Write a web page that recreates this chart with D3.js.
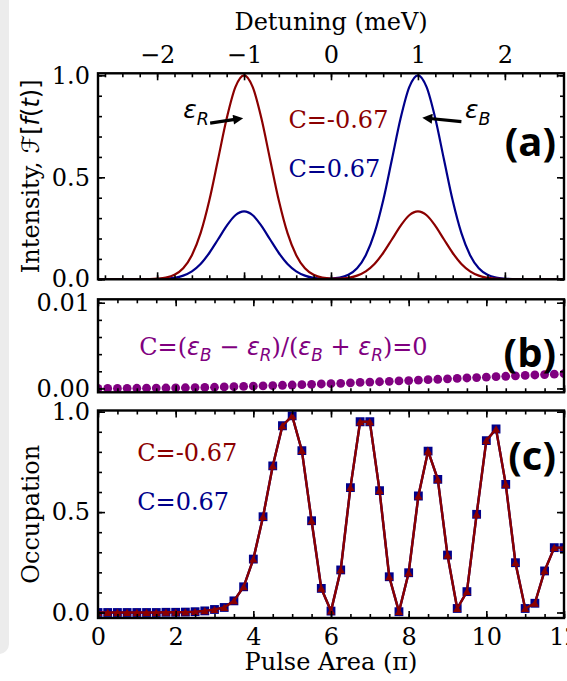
<!DOCTYPE html>
<html>
<head>
<meta charset="utf-8">
<script src="https://cdn.jsdelivr.net/npm/d3@7.9.0/dist/d3.min.js"></script>
<style>
  body { margin: 0; background: #fff; }
</style>
</head>
<body>
<div id="chart"></div>
<script>
// panel (a): spectra vs detuning (meV)
const detuning = [-2.7, -2.6, -2.5, -2.4, -2.3, -2.2, -2.1, -2.0, -1.9, -1.8, -1.7, -1.6, -1.5, -1.4,
  -1.3, -1.2, -1.1, -1.0, -0.9, -0.8, -0.7, -0.6, -0.5, -0.4, -0.3, -0.2, -0.1, 0.0,
  0.1, 0.2, 0.3, 0.4, 0.5, 0.6, 0.7, 0.8, 0.9, 1.0, 1.1, 1.2, 1.3, 1.4, 1.5, 1.6,
  1.7, 1.8, 1.9, 2.0, 2.1, 2.2, 2.3, 2.4, 2.5, 2.6, 2.7];
const redSpectrum = [0, 0, 0, 0, 0, 0, 0.001, 0.003, 0.008, 0.022, 0.054, 0.118, 0.226, 0.386,
  0.586, 0.788, 0.942, 1.0, 0.942, 0.788, 0.586, 0.386, 0.226, 0.118, 0.054, 0.022, 0.008, 0.004,
  0.004, 0.007, 0.018, 0.039, 0.075, 0.129, 0.195, 0.262, 0.314, 0.333, 0.314, 0.262, 0.195, 0.129,
  0.075, 0.039, 0.018, 0.007, 0.003, 0.001, 0, 0, 0, 0, 0, 0, 0];
const blueSpectrum = [0, 0, 0, 0, 0, 0, 0, 0.001, 0.003, 0.007, 0.018, 0.039, 0.075, 0.129,
  0.195, 0.262, 0.314, 0.333, 0.314, 0.262, 0.195, 0.129, 0.075, 0.039, 0.018, 0.007, 0.004, 0.004,
  0.008, 0.022, 0.054, 0.118, 0.226, 0.386, 0.586, 0.788, 0.942, 1.0, 0.942, 0.788, 0.586, 0.386,
  0.226, 0.118, 0.054, 0.022, 0.008, 0.003, 0.001, 0, 0, 0, 0, 0, 0];

// panels (b) and (c): occupation vs pulse area (pi)
const pulseArea = [0, 0.25, 0.5, 0.75, 1, 1.25, 1.5, 1.75, 2, 2.25, 2.5, 2.75, 3, 3.25, 3.5, 3.75,
  4, 4.25, 4.5, 4.75, 5, 5.25, 5.5, 5.75, 6, 6.25, 6.5, 6.75, 7, 7.25, 7.5, 7.75,
  8, 8.25, 8.5, 8.75, 9, 9.25, 9.5, 9.75, 10, 10.25, 10.5, 10.75, 11, 11.25, 11.5, 11.75, 12];
const occZero = [0, 0, 0, 0.00001, 0.00002, 0.00003, 0.00004, 0.00005, 0.00006, 0.00008, 0.0001,
  0.00012, 0.00014, 0.00017, 0.0002, 0.00023, 0.00026, 0.0003, 0.00033, 0.00037, 0.0004, 0.00044,
  0.00048, 0.00052, 0.00056, 0.0006, 0.00065, 0.0007, 0.00074, 0.00078, 0.00083, 0.00088, 0.00092,
  0.00097, 0.00102, 0.00107, 0.00112, 0.00117, 0.00122, 0.00127, 0.00132, 0.00137, 0.00142,
  0.00147, 0.00152, 0.00157, 0.00162, 0.00167, 0.00172];
const occRed = [0, 0, 0, 0, 0, 0, 0, 0.001, 0.001, 0.002, 0.004, 0.008, 0.015, 0.025, 0.058, 0.128,
  0.266, 0.477, 0.73, 0.93, 0.979, 0.806, 0.457, 0.12, 0.007, 0.212, 0.622, 0.95, 0.95, 0.607, 0.178, 0.004,
  0.198, 0.58, 0.804, 0.663, 0.286, 0.02, 0.104, 0.489, 0.856, 0.914, 0.638, 0.248, 0.02, 0.046, 0.207, 0.323, 0.323];
const occBlue = [0, 0, 0, 0, 0, 0, 0, 0.001, 0.001, 0.002, 0.004, 0.008, 0.015, 0.025, 0.058, 0.128,
  0.266, 0.477, 0.73, 0.93, 0.979, 0.806, 0.457, 0.12, 0.007, 0.212, 0.622, 0.95, 0.95, 0.607, 0.178, 0.004,
  0.198, 0.58, 0.804, 0.663, 0.286, 0.02, 0.104, 0.489, 0.856, 0.914, 0.638, 0.248, 0.02, 0.046, 0.207, 0.323, 0.323];

// tick labels
const detTicks = [-2, -1, 0, 1, 2];
const areaTicks = [0, 2, 4, 6, 8, 10, 12];
const occTicks = [0, 0.5, 1.0];
const smallTicks = [0, 0.01];

const RED = "#8b0000", BLUE = "#00008b", PURPLE = "#800080";
const width = 567, height = 681;
const left = 98, right = 564;

const svg = d3.select("#chart").append("svg")
    .attr("width", width)
    .attr("height", height)
    .attr("font-family", "DejaVu Serif");

// grey page edge on the left
svg.append("rect")
    .attr("x", -14).attr("y", -14)
    .attr("width", 23).attr("height", 668)
    .attr("rx", 10)
    .attr("fill", "#ececec");

const defs = svg.append("defs");
defs.append("marker")
    .attr("id", "head")
    .attr("viewBox", "0 0 10 10")
    .attr("refX", 10).attr("refY", 5)
    .attr("markerWidth", 12).attr("markerHeight", 10)
    .attr("markerUnits", "userSpaceOnUse")
    .attr("orient", "auto")
    .append("path").attr("d", "M0,0L10,5L0,10Z").attr("fill", "#000");

// scales
const xDet = d3.scaleLinear().domain([-2.68, 2.68]).range([left, right]);
const xArea = d3.scaleLinear().domain([0, 12]).range([left, right]);
const yA = d3.scaleLinear().domain([0, 1.01]).range([279.3, 73.3]);
const yB = d3.scaleLinear().domain([-0.00045, 0.0104]).range([392.3, 299.3]);
const yC = d3.scaleLinear().domain([-0.0274, 1.006]).range([618, 410.5]);

function clip(id, y) {
    defs.append("clipPath").attr("id", id)
        .append("rect")
        .attr("x", left).attr("y", y.range()[1])
        .attr("width", right - left).attr("height", y.range()[0] - y.range()[1]);
}
clip("clipA", yA); clip("clipB", yB); clip("clipC", yC);

// inward ticks on one side
function ticks(axisFn, scale, values, size, fmt, pos, pad) {
    const g = svg.append("g").attr("transform", pos);
    g.call(axisFn(scale).tickValues(values).tickSize(-size).tickPadding(pad || 9)
        .tickFormat(fmt || (() => "")));
    g.attr("font-family", "DejaVu Serif").attr("font-size", 24);
    g.select(".domain").remove();
    g.selectAll("line").attr("stroke", "#000").attr("stroke-width", 1.6);
    g.selectAll("text").attr("fill", "#000");
}

function frame(y) {
    svg.append("rect")
        .attr("x", left).attr("y", y.range()[1])
        .attr("width", right - left).attr("height", y.range()[0] - y.range()[1])
        .attr("fill", "none").attr("stroke", "#000").attr("stroke-width", 2.4);
}

function xTicks(x, y, major, minor, fmtTop, fmtBottom) {
    const top = y.range()[1], bottom = y.range()[0];
    ticks(d3.axisTop, x, minor, 4, null, `translate(0,${top})`);
    ticks(d3.axisTop, x, major, 7, fmtTop, `translate(0,${top})`, 10);
    ticks(d3.axisBottom, x, minor, 4, null, `translate(0,${bottom})`);
    ticks(d3.axisBottom, x, major, 7, fmtBottom, `translate(0,${bottom})`, 10);
}

function yTicks(y, major, minor, fmt) {
    ticks(d3.axisLeft, y, minor, 4, null, `translate(${left},0)`);
    ticks(d3.axisLeft, y, major, 7, fmt, `translate(${left},0)`, 8);
    ticks(d3.axisRight, y, minor, 4, null, `translate(${right},0)`);
    ticks(d3.axisRight, y, major, 7, null, `translate(${right},0)`);
}

// ---------- panel (a)
const lineA = d3.line()
    .x((d, i) => xDet(detuning[i]))
    .y(d => yA(d))
    .curve(d3.curveMonotoneX);

const gA = svg.append("g").attr("clip-path", "url(#clipA)");
gA.append("path").datum(blueSpectrum).attr("d", lineA)
    .attr("fill", "none").attr("stroke", BLUE).attr("stroke-width", 2.2);
gA.append("path").datum(redSpectrum).attr("d", lineA)
    .attr("fill", "none").attr("stroke", RED).attr("stroke-width", 2.2);

xTicks(xDet, yA, detTicks, d3.range(-2.6, 2.61, 0.2), d3.format(".0f"), null);
yTicks(yA, occTicks, d3.range(0, 1.01, 0.1), d3.format(".1f"));
frame(yA);

// ---------- panel (b)
const gB = svg.append("g").attr("clip-path", "url(#clipB)");
gB.selectAll("circle").data(occZero).join("circle")
    .attr("cx", (d, i) => xArea(pulseArea[i]))
    .attr("cy", d => yB(d))
    .attr("r", 4.4)
    .attr("fill", PURPLE);

xTicks(xArea, yB, areaTicks, d3.range(0, 12.01, 0.5), null, null);
yTicks(yB, smallTicks, d3.range(0, 0.0101, 0.002), d3.format(".2f"));
frame(yB);

// ---------- panel (c)
const lineC = d3.line()
    .x((d, i) => xArea(pulseArea[i]))
    .y(d => yC(d));

const gC = svg.append("g").attr("clip-path", "url(#clipC)");
gC.append("path").datum(occBlue).attr("d", lineC)
    .attr("fill", "none").attr("stroke", BLUE).attr("stroke-width", 2.4);
gC.selectAll(".sq").data(occBlue).join("path").attr("class", "sq")
    .attr("transform", (d, i) => `translate(${xArea(pulseArea[i])},${yC(d)})`)
    .attr("d", d3.symbol(d3.symbolSquare, 78))
    .attr("fill", BLUE);
gC.append("path").datum(occRed).attr("d", lineC)
    .attr("fill", "none").attr("stroke", RED).attr("stroke-width", 2.4);
gC.selectAll(".tri").data(occRed).join("path").attr("class", "tri")
    .attr("transform", (d, i) => `translate(${xArea(pulseArea[i])},${yC(d) + 1})`)
    .attr("d", d3.symbol(d3.symbolTriangle, 30))
    .attr("fill", RED);

xTicks(xArea, yC, areaTicks, d3.range(0, 12.01, 0.5), null, d3.format("d"));
yTicks(yC, occTicks, d3.range(0, 1.01, 0.1), d3.format(".1f"));
frame(yC);

// ---------- axis titles
svg.append("text").attr("x", xDet(0)).attr("y", 30)
    .attr("text-anchor", "middle").attr("font-size", 24)
    .text("Detuning (meV)");
svg.append("text").attr("x", xArea(6)).attr("y", 670)
    .attr("text-anchor", "middle").attr("font-size", 24)
    .text("Pulse Area (π)");

const yLabA = svg.append("text")
    .attr("transform", `translate(39,${(yA.range()[0] + yA.range()[1]) / 2}) rotate(-90)`)
    .attr("text-anchor", "middle").attr("font-size", 24);
yLabA.append("tspan").text("Intensity, ");
yLabA.append("tspan").attr("font-family", "DejaVu Sans").attr("font-style", "italic").text("ℱ");
yLabA.append("tspan").attr("font-family", "DejaVu Sans").text("[");
yLabA.append("tspan").attr("font-family", "DejaVu Sans").attr("font-style", "italic").text("f");
yLabA.append("tspan").attr("font-family", "DejaVu Sans").text("(");
yLabA.append("tspan").attr("font-family", "DejaVu Sans").attr("font-style", "italic").text("t");
yLabA.append("tspan").attr("font-family", "DejaVu Sans").text(")]");

svg.append("text")
    .attr("transform", `translate(39,${(yC.range()[0] + yC.range()[1]) / 2}) rotate(-90)`)
    .attr("text-anchor", "middle").attr("font-size", 24)
    .text("Occupation");

// ---------- annotations
// mixed text with italic epsilons and subscripts
function mathText(x, y, parts, size, color) {
    const t = svg.append("text").attr("x", x).attr("y", y)
        .attr("font-size", size).attr("fill", color);
    let shift = 0;
    parts.forEach(p => {
        const s = t.append("tspan").text(p.t);
        const want = p.sub ? size * 0.26 : 0;
        if (want !== shift) { s.attr("dy", want - shift); shift = want; }
        if (p.sub) s.attr("font-size", size * 0.7);
        if (p.it) s.attr("font-family", "DejaVu Sans").attr("font-style", "italic");
        if (p.sans) s.attr("font-family", "DejaVu Sans");
    });
    return t;
}

mathText(xDet(-1.70), yA(0.79), [{t: "ε", it: 1}, {t: "R", it: 1, sub: 1}], 25, "#000");
mathText(xDet(1.54), yA(0.79), [{t: "ε", it: 1}, {t: "B", it: 1, sub: 1}], 25, "#000");

function arrow(x1, y1, x2, y2) {
    const len = Math.hypot(x2 - x1, y2 - y1), back = 5;
    svg.append("line")
        .attr("x1", x1).attr("y1", y1)
        .attr("x2", x2 - (x2 - x1) / len * back).attr("y2", y2 - (y2 - y1) / len * back)
        .attr("stroke", "#000").attr("stroke-width", 3.2);
    svg.append("line")
        .attr("x1", x2 - (x2 - x1) / len * 8).attr("y1", y2 - (y2 - y1) / len * 8)
        .attr("x2", x2).attr("y2", y2)
        .attr("stroke", "none")
        .attr("marker-end", "url(#head)");
}
arrow(xDet(-1.39), yA(0.766), xDet(-1.01), yA(0.79));
arrow(xDet(1.50), yA(0.773), xDet(1.05), yA(0.792));

svg.append("text").attr("x", xDet(-0.49)).attr("y", yA(0.742))
    .attr("font-size", 24).attr("fill", RED).text("C=-0.67");
svg.append("text").attr("x", xDet(-0.49)).attr("y", yA(0.503))
    .attr("font-size", 24).attr("fill", BLUE).text("C=0.67");

mathText(xArea(1.06), yB(0.0039), [
    {t: "C=("}, {t: "ε", it: 1}, {t: "B", it: 1, sub: 1}, {t: " − ", sans: 1},
    {t: "ε", it: 1}, {t: "R", it: 1, sub: 1}, {t: ")/("},
    {t: "ε", it: 1}, {t: "B", it: 1, sub: 1}, {t: " + ", sans: 1},
    {t: "ε", it: 1}, {t: "R", it: 1, sub: 1}, {t: ")=0"}
], 24, PURPLE);

svg.append("text").attr("x", xArea(1.01)).attr("y", yC(0.754))
    .attr("font-size", 24).attr("fill", RED).text("C=-0.67");
svg.append("text").attr("x", xArea(1.01)).attr("y", yC(0.51))
    .attr("font-size", 24).attr("fill", BLUE).text("C=0.67");

// panel letters
const letters = [["(a)", 156], ["(b)", 367], ["(c)", 470]];
svg.selectAll(".letter").data(letters).join("text").attr("class", "letter")
    .attr("x", 556).attr("y", d => d[1])
    .attr("text-anchor", "end")
    .attr("font-family", "Open Sans").attr("font-weight", "bold").attr("font-size", 40)
    .text(d => d[0]);
</script>
</body>
</html>
